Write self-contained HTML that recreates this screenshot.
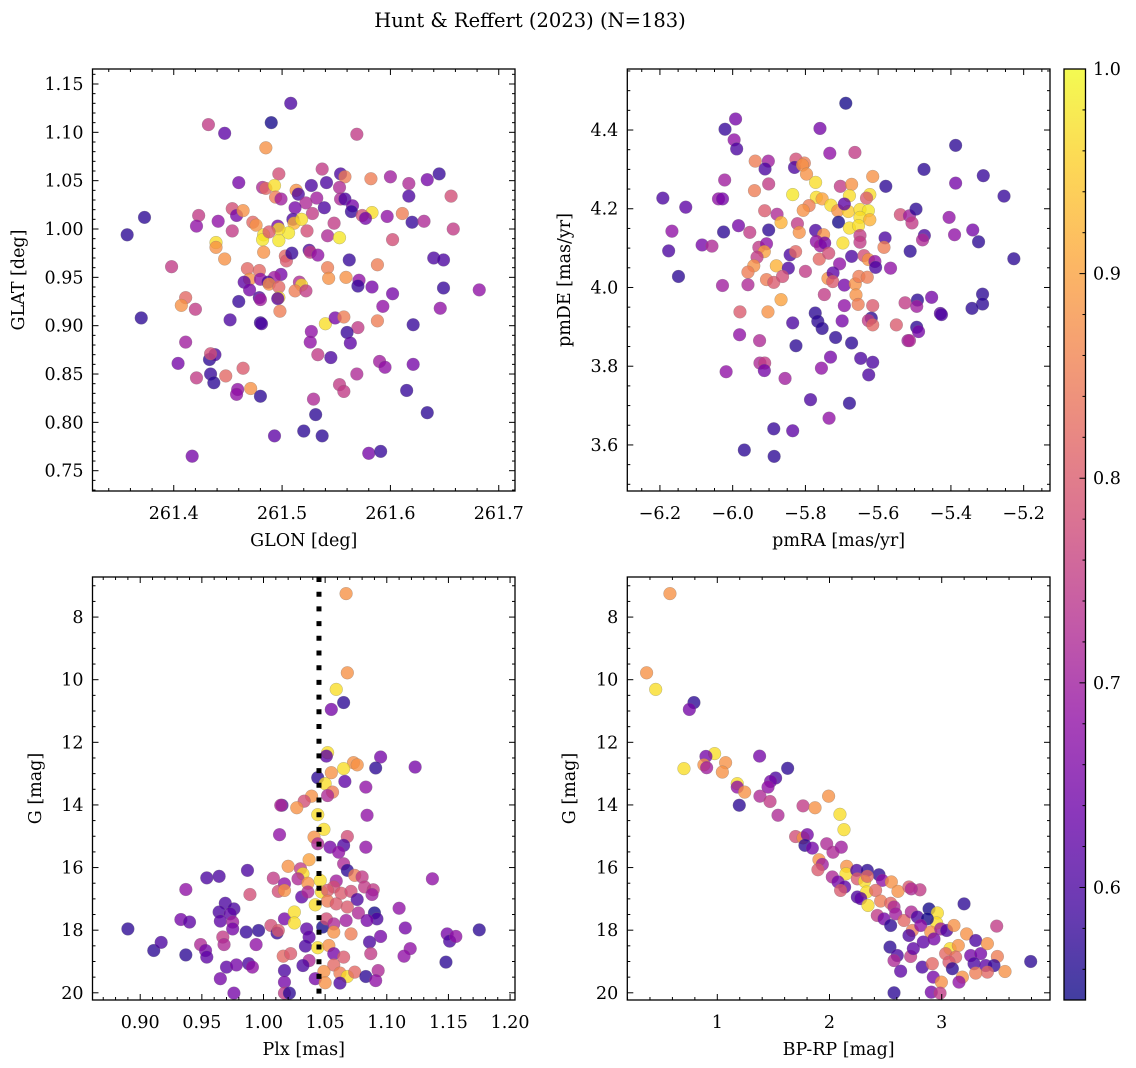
<!DOCTYPE html>
<html><head><meta charset="utf-8"><style>
html,body{margin:0;padding:0;background:#fff;}
svg{display:block;font-family:"DejaVu Serif","Liberation Serif",serif;}
</style></head><body>
<svg id="chart" xmlns="http://www.w3.org/2000/svg" width="1136" height="1068" viewBox="0 0 1136 1068">
<defs>
<linearGradient id="plasma" x1="0" y1="1" x2="0" y2="0">
<stop offset="0" stop-color="#0d0887"/><stop offset="0.1" stop-color="#41049d"/><stop offset="0.2" stop-color="#6a00a8"/><stop offset="0.3" stop-color="#8f0da4"/><stop offset="0.4" stop-color="#b12a90"/><stop offset="0.5" stop-color="#cc4778"/><stop offset="0.6" stop-color="#e16462"/><stop offset="0.7" stop-color="#f2844b"/><stop offset="0.8" stop-color="#fca636"/><stop offset="0.9" stop-color="#fcce25"/><stop offset="1" stop-color="#f0f921"/>
</linearGradient>
</defs>
<text x="530" y="27" text-anchor="middle" font-size="19.5">Hunt &amp; Reffert (2023) (N=183)</text>
</svg>
<script>
// ---- data ----
const p1x=[261.508,261.432,261.447,261.490,261.569,261.485,261.460,261.497,261.537,261.554,261.558,261.582,261.600,261.617,261.634,261.645,261.617,261.656,261.482,261.485,261.493,261.494,261.499,261.513,261.515,261.527,261.541,261.553,261.532,261.554,261.558,261.522,261.512,261.539,261.565,261.564,261.528,261.583,261.574,261.577,261.597,261.611,261.620,261.631,261.658,261.454,261.458,261.464,261.423,261.421,261.441,261.454,261.373,261.357,261.473,261.476,261.496,261.510,261.511,261.518,261.506,261.523,261.497,261.483,261.482,261.497,261.488,261.548,261.542,261.553,261.602,261.439,261.439,261.447,261.483,261.503,261.504,261.509,261.525,261.526,261.533,261.562,261.588,261.640,261.649,261.398,261.468,261.479,261.542,261.543,261.559,261.499,261.493,261.470,261.465,261.480,261.487,261.488,261.497,261.516,261.518,261.512,261.522,261.470,261.479,261.480,261.497,261.496,261.571,261.570,261.583,261.602,261.649,261.682,261.411,261.407,261.420,261.460,261.498,261.593,261.646,261.370,261.452,261.480,261.481,261.540,261.549,261.557,261.588,261.570,261.621,261.527,261.526,261.560,261.563,261.411,261.533,261.545,261.404,261.433,261.438,261.434,261.590,261.595,261.621,261.421,261.434,261.437,261.448,261.464,261.569,261.459,261.458,261.471,261.480,261.553,261.557,261.615,261.529,261.531,261.634,261.493,261.520,261.537,261.580,261.591,261.417];
const p1y=[1.130,1.108,1.099,1.110,1.098,1.084,1.048,1.057,1.062,1.057,1.054,1.052,1.054,1.047,1.051,1.057,1.034,1.034,1.043,1.042,1.045,1.033,1.031,1.040,1.036,1.045,1.048,1.043,1.032,1.031,1.031,1.027,1.022,1.022,1.024,1.018,1.016,1.017,1.014,1.011,1.013,1.016,1.007,1.008,1.000,1.021,1.014,1.019,1.014,1.003,1.008,0.998,1.012,0.994,1.007,1.004,1.003,1.010,1.006,1.010,0.996,0.998,1.000,0.994,0.989,0.988,0.997,1.006,0.993,0.991,0.989,0.986,0.981,0.969,0.976,0.972,0.967,0.975,0.978,0.976,0.973,0.968,0.963,0.970,0.968,0.961,0.959,0.957,0.960,0.949,0.950,0.953,0.950,0.948,0.945,0.948,0.945,0.943,0.940,0.945,0.942,0.936,0.936,0.937,0.929,0.927,0.929,0.928,0.947,0.941,0.940,0.933,0.939,0.937,0.929,0.921,0.917,0.925,0.915,0.920,0.918,0.908,0.906,0.903,0.902,0.902,0.908,0.909,0.905,0.898,0.901,0.894,0.883,0.893,0.882,0.883,0.870,0.867,0.861,0.865,0.870,0.871,0.863,0.857,0.860,0.846,0.850,0.841,0.848,0.856,0.850,0.834,0.829,0.835,0.827,0.839,0.832,0.833,0.824,0.808,0.810,0.786,0.791,0.786,0.768,0.770,0.765];
const p1p=[.6,.75,.62,.55,.75,.88,.65,.78,.75,.6,.85,.85,.7,.72,.65,.58,.6,.78,.72,.82,.97,.85,.7,.88,.6,.6,.6,.72,.7,.72,.6,.72,.65,.6,.65,.58,.75,.97,.78,.65,.68,.85,.58,.72,.75,.78,.65,.88,.75,.68,.68,.75,.57,.57,.82,.88,.65,.6,.92,.97,.98,.78,.97,.97,.98,.98,.8,.75,.72,.98,.78,.97,.88,.88,.88,.82,.8,.58,.6,.75,.68,.58,.85,.6,.6,.75,.82,.82,.85,.88,.88,.65,.7,.88,.62,.68,.6,.88,.82,.72,.97,.85,.75,.65,.6,.7,.97,.62,.68,.58,.65,.65,.58,.68,.82,.88,.75,.58,.85,.68,.68,.57,.6,.58,.6,.97,.65,.85,.85,.75,.58,.68,.68,.58,.62,.7,.75,.6,.65,.57,.6,.78,.7,.68,.65,.75,.58,.57,.82,.8,.72,.68,.68,.88,.57,.75,.75,.58,.72,.57,.57,.62,.57,.57,.65,.58,.65];
const p2x=[-5.689,-5.992,-6.021,-5.760,-5.996,-5.989,-5.733,-5.664,-5.387,-5.938,-5.902,-5.911,-5.826,-5.830,-5.803,-5.808,-5.797,-5.474,-5.311,-6.022,-5.901,-5.772,-5.940,-5.704,-5.673,-5.615,-5.579,-5.387,-5.254,-6.192,-6.039,-6.028,-5.835,-5.770,-5.754,-5.730,-5.679,-5.623,-5.632,-6.129,-5.912,-5.878,-5.790,-5.806,-5.711,-5.682,-5.693,-5.650,-5.627,-5.650,-5.623,-5.709,-5.867,-5.822,-5.679,-5.654,-5.539,-5.514,-5.507,-5.496,-5.405,-5.340,-5.324,-5.227,-6.167,-6.176,-6.149,-6.084,-6.057,-5.984,-6.025,-5.953,-5.901,-5.817,-5.772,-5.750,-5.770,-5.759,-5.747,-5.650,-5.650,-5.697,-5.581,-5.584,-5.473,-5.478,-5.390,-5.512,-5.928,-5.907,-5.913,-5.933,-5.942,-5.958,-5.842,-5.827,-5.762,-5.736,-5.673,-5.639,-5.627,-5.609,-5.607,-5.566,-5.706,-5.880,-5.847,-5.800,-5.907,-5.887,-5.863,-5.738,-5.724,-5.725,-5.693,-5.663,-5.653,-5.630,-6.028,-5.958,-5.748,-5.661,-5.867,-5.655,-5.615,-5.693,-5.980,-5.903,-5.526,-5.492,-5.494,-5.453,-5.429,-5.426,-5.313,-5.313,-5.342,-5.773,-5.766,-5.754,-5.835,-5.699,-5.619,-5.627,-5.615,-5.550,-5.494,-5.489,-5.518,-5.514,-5.981,-5.926,-5.826,-5.717,-5.673,-5.648,-5.615,-5.626,-5.731,-5.756,-5.925,-5.912,-5.913,-6.018,-5.856,-5.786,-5.679,-5.735,-5.887,-5.835,-5.968,-5.886];
const p2y=[4.468,4.428,4.402,4.404,4.375,4.352,4.341,4.343,4.361,4.321,4.321,4.301,4.326,4.305,4.316,4.311,4.288,4.300,4.284,4.273,4.263,4.267,4.246,4.257,4.262,4.282,4.257,4.265,4.232,4.227,4.225,4.225,4.236,4.229,4.225,4.209,4.233,4.236,4.227,4.204,4.195,4.186,4.208,4.196,4.195,4.193,4.212,4.198,4.195,4.178,4.172,4.166,4.165,4.162,4.151,4.157,4.185,4.182,4.164,4.199,4.178,4.146,4.116,4.073,4.143,4.093,4.028,4.108,4.105,4.157,4.141,4.140,4.146,4.140,4.145,4.134,4.117,4.106,4.113,4.132,4.115,4.113,4.126,4.102,4.132,4.121,4.134,4.092,4.102,4.111,4.091,4.077,4.055,4.039,4.083,4.091,4.072,4.087,4.079,4.081,4.071,4.066,4.051,4.049,4.060,4.055,4.049,4.041,4.020,4.013,4.028,4.023,4.037,4.015,4.006,4.009,4.028,4.026,4.005,4.007,3.982,3.981,3.969,3.957,3.954,3.954,3.938,3.938,3.961,3.968,3.952,3.975,3.934,3.931,3.983,3.958,3.947,3.935,3.914,3.896,3.910,3.915,3.922,3.916,3.905,3.905,3.899,3.888,3.865,3.865,3.880,3.865,3.852,3.873,3.859,3.820,3.810,3.778,3.823,3.795,3.808,3.808,3.789,3.786,3.769,3.715,3.706,3.668,3.641,3.636,3.587,3.571];
const p2p=[.55,.65,.58,.65,.68,.6,.68,.75,.57,.85,.7,.6,.78,.6,.85,.88,.88,.57,.58,.7,.75,.97,.85,.75,.88,.88,.57,.65,.58,.6,.68,.65,.98,.97,.9,.97,.97,.97,.8,.62,.8,.72,.85,.88,.88,.95,.62,.97,.98,.97,.92,.55,.92,.75,.97,.97,.78,.7,.75,.57,.68,.65,.57,.57,.68,.6,.57,.65,.72,.65,.57,.75,.57,.88,.6,.88,.68,.7,.65,.75,.75,.97,.6,.85,.6,.72,.68,.57,.75,.68,.9,.75,.88,.85,.6,.82,.82,.78,.6,.78,.88,.68,.6,.68,.68,.92,.6,.75,.85,.8,.78,.88,.62,.8,.65,.88,.85,.85,.7,.72,.75,.88,.9,.85,.8,.68,.8,.88,.75,.57,.7,.65,.62,.6,.57,.57,.57,.57,.57,.57,.6,.65,.57,.75,.82,.8,.57,.65,.7,.72,.68,.72,.57,.57,.57,.6,.6,.6,.65,.68,.72,.75,.65,.68,.7,.6,.57,.68,.58,.62,.57,.57];
const p3x=[1.067,1.068,1.059,1.065,1.055,1.052,1.051,1.095,1.091,1.123,1.073,1.076,1.065,1.055,1.044,1.050,1.066,1.083,1.056,1.052,1.039,1.033,1.015,1.014,1.027,1.044,1.084,1.049,1.013,1.041,1.068,1.044,1.054,1.065,1.061,1.083,1.037,1.020,1.030,1.032,1.065,1.068,1.074,1.080,0.987,0.954,0.964,1.008,1.017,1.028,1.036,1.046,1.059,1.057,1.082,1.089,1.088,1.137,0.937,0.989,1.012,1.017,1.031,1.036,1.047,1.052,1.063,1.071,1.076,1.052,1.059,1.068,1.042,0.969,0.976,1.110,0.964,0.973,0.965,0.975,0.975,0.933,0.940,0.890,0.986,0.996,1.006,1.011,1.012,1.017,1.025,1.025,1.035,1.037,1.048,1.051,1.057,1.057,1.067,1.077,1.090,1.092,1.084,1.071,1.095,1.086,1.087,1.115,1.119,1.114,1.149,1.151,1.156,1.175,1.148,0.911,0.917,0.937,0.949,0.953,0.954,0.967,0.968,0.994,1.016,1.022,1.034,1.044,1.053,1.057,1.065,1.037,1.032,1.057,0.970,0.978,0.988,0.991,1.017,1.049,1.062,1.068,1.074,1.083,1.093,1.091,0.965,1.017,1.042,1.050,1.062,0.976,1.017,1.021];
const p3y=[7.25,9.78,10.31,10.73,10.95,12.33,12.44,12.47,12.82,12.79,12.65,12.72,12.84,12.97,13.13,13.32,13.25,13.43,13.59,13.70,13.72,13.88,14.01,14.01,14.09,14.31,14.33,14.78,14.95,15.03,15.01,15.24,15.35,15.29,15.51,15.35,15.75,15.96,16.04,16.20,15.88,16.09,16.25,16.30,16.09,16.33,16.28,16.34,16.52,16.36,16.50,16.41,16.43,16.62,16.62,16.71,16.86,16.36,16.70,16.86,16.76,16.73,16.94,16.78,16.78,16.73,16.82,16.76,17.02,17.07,17.16,17.26,17.19,17.14,17.32,17.30,17.42,17.48,17.71,17.74,17.96,17.66,17.74,17.96,18.06,18.01,17.85,18.09,18.01,17.64,17.42,17.77,17.96,18.22,17.90,17.64,17.80,18.06,17.69,17.45,17.45,17.64,17.69,18.12,18.20,18.38,18.75,17.93,18.59,18.83,18.12,18.35,18.20,17.99,19.02,18.65,18.39,18.79,18.46,18.65,18.86,18.22,18.46,18.46,18.83,18.75,18.51,18.56,18.49,18.75,18.86,18.97,19.13,19.11,19.18,19.11,19.07,19.18,19.29,19.32,19.37,19.48,19.34,19.48,19.29,19.61,19.55,19.66,19.55,19.68,19.69,20.01,20.01,20.01];
const p3p=[.88,.88,.97,.57,.65,.97,.62,.65,.57,.65,.88,.88,.97,.88,.57,.97,.62,.68,.85,.72,.88,.78,.6,.72,.88,.97,.68,.97,.68,.88,.78,.72,.65,.6,.68,.68,.9,.88,.75,.97,.72,.57,.85,.75,.6,.6,.6,.75,.68,.72,.88,.97,.7,.78,.75,.75,.7,.68,.68,.78,.78,.88,.62,.72,.97,.8,.8,.78,.6,.85,.8,.8,.97,.6,.6,.68,.6,.62,.62,.7,.65,.65,.62,.57,.58,.57,.78,.58,.8,.65,.97,.97,.62,.62,.55,.78,.72,.88,.7,.72,.55,.6,.65,.85,.65,.6,.75,.65,.68,.68,.65,.6,.68,.57,.57,.57,.6,.57,.72,.65,.62,.75,.72,.68,.82,.8,.6,.97,.88,.65,.8,.72,.6,.82,.62,.65,.6,.68,.6,.88,.85,.97,.82,.57,.72,.68,.65,.65,.65,.88,.6,.65,.75,.57];
const p4x=[0.578,0.370,0.451,0.792,0.751,0.976,0.899,0.881,0.905,1.074,1.045,0.703,1.377,1.627,1.520,1.475,1.452,1.178,1.178,1.244,1.380,1.470,1.196,1.541,1.764,1.871,1.992,2.093,2.129,1.698,1.764,1.802,1.781,1.847,1.975,2.031,2.105,1.906,1.936,1.897,2.153,2.147,2.242,2.337,2.441,2.025,2.076,2.135,2.099,2.248,2.313,2.337,2.471,2.551,2.610,2.708,2.806,2.729,2.248,2.331,2.411,2.278,2.456,2.343,2.545,2.575,3.199,2.426,2.486,2.545,2.590,2.664,2.729,2.783,2.887,2.961,2.955,2.872,2.738,2.813,2.708,2.902,2.991,3.044,3.109,3.222,3.490,2.836,2.931,3.074,3.148,3.035,3.124,3.303,3.258,3.347,3.407,3.496,3.288,3.392,3.466,3.407,3.564,3.793,2.539,2.604,2.575,2.723,2.747,2.634,2.827,2.916,2.925,3.065,3.095,3.184,3.303,3.154,2.997,2.907,2.985,2.575];
const p4y=[7.25,9.78,10.31,10.73,10.95,12.36,12.45,12.72,12.81,12.65,12.95,12.84,12.44,12.83,13.14,13.25,13.43,13.32,13.43,13.59,13.72,13.89,14.01,14.33,14.03,14.09,13.72,14.30,14.79,15.01,15.05,14.95,15.29,15.38,15.24,15.51,15.35,15.75,15.90,16.07,15.96,16.20,16.09,16.09,16.23,16.30,16.46,16.62,16.73,16.36,16.44,16.28,16.41,16.46,16.76,16.62,16.71,16.68,16.94,16.78,16.73,16.99,17.07,17.21,17.14,17.26,17.16,17.53,17.64,17.85,17.48,17.69,17.42,17.58,17.32,17.45,17.77,17.64,18.01,17.85,18.17,18.06,17.96,18.01,17.85,18.12,17.87,18.38,18.28,18.59,18.49,18.75,18.86,18.33,18.81,18.75,18.43,18.84,19.07,19.13,19.13,19.34,19.32,19.00,18.54,18.81,18.97,18.84,18.59,19.31,19.18,19.07,19.50,19.02,19.23,19.50,19.37,19.66,19.66,19.98,20.01,20.00];
const p4p=[.88,.88,.97,.57,.65,.97,.65,.88,.7,.88,.88,.97,.65,.57,.6,.65,.68,.97,.68,.88,.72,.75,.57,.72,.75,.88,.88,.97,.97,.78,.88,.65,.57,.65,.72,.72,.7,.88,.7,.8,.88,.97,.6,.57,.57,.72,.65,.62,.8,.8,.97,.82,.68,.88,.88,.8,.75,.72,.6,.97,.82,.62,.85,.97,.82,.72,.57,.75,.65,.57,.7,.82,.72,.6,.55,.97,.97,.55,.85,.68,.6,.88,.7,.6,.88,.88,.75,.62,.65,.97,.88,.82,.82,.6,.65,.65,.88,.85,.6,.62,.58,.82,.88,.57,.57,.6,.72,.75,.62,.62,.6,.82,.65,.8,.57,.88,.85,.68,.88,.65,.75,.57];
const plxLine=[1.045];
const cbRange=[0.545,1.0];
const cbTicks=[0.6,0.7,0.8,0.9,1.0];

const SVG="http://www.w3.org/2000/svg";
const svg=document.getElementById('chart');
const FS=17.5;
function mk(tag,attrs,parent){const e=document.createElementNS(SVG,tag);for(const k in attrs)e.setAttribute(k,attrs[k]);(parent||svg).appendChild(e);return e;}
const stops=[[13,8,135],[65,4,157],[106,0,168],[143,13,164],[177,42,144],[204,71,120],[225,100,98],[242,132,75],[252,166,54],[252,206,37],[240,249,33]];
function cmap(p){let t=(p-cbRange[0])/(cbRange[1]-cbRange[0]);t=Math.max(0,Math.min(1,t))*10;const i=Math.min(9,Math.floor(t));const f=t-i;const a=stops[i],b=stops[i+1];return 'rgb('+a.map((v,k)=>Math.round(v+(b[k]-v)*f)).join(',')+')';}
function fmt(v,d){const s=v.toFixed(d);return v<0?'\u2212'+s.slice(1):s;}

function panel(cfg){
  const {L,R,T,B,xd,yd,name}=cfg;
  const sx=v=>L+(v-xd[0])/(xd[1]-xd[0])*(R-L);
  const sy=v=>T+(yd[1]-v)/(yd[1]-yd[0])*(B-T);
  const g=mk('g',{});
  
  
  const clipId='clip-'+name;
  const cp=mk('clipPath',{id:clipId},g);mk('rect',{x:L,y:T,width:R-L,height:B-T},cp);
  const pts=mk('g',{'clip-path':'url(#'+clipId+')'},g);
  
  
  for(let i=0;i<cfg.xs.length;i++){
    const c=mk('circle',{cx:sx(cfg.xs[i]),cy:sy(cfg.ys[i]),r:6.4,fill:cmap(cfg.ps[i]),'fill-opacity':0.78,stroke:'#777','stroke-opacity':0.5,'stroke-width':0.5},pts);
    
    
  }
  if(cfg.vline){cfg.vline.forEach(v=>{const l=mk('line',{x1:sx(v),x2:sx(v),y1:T,y2:B,stroke:'#000','stroke-width':5,'stroke-dasharray':'5 9.7'},g);
    
    });}
  const fr=mk('rect',{x:L,y:T,width:R-L,height:B-T,fill:'none',stroke:'#000','stroke-width':1.3},g);
  
  
  const eps=1e-9;
  for(let v=Math.ceil(xd[0]/cfg.xmin-eps)*cfg.xmin;v<=xd[1]+eps;v+=cfg.xmin){
    const x=sx(v);const isMaj=Math.abs(v/cfg.xmaj-Math.round(v/cfg.xmaj))<1e-6;const len=isMaj?6:3;
    mk('line',{x1:x,x2:x,y1:B,y2:B-len,stroke:'#000','stroke-width':1},g);
    mk('line',{x1:x,x2:x,y1:T,y2:T+len,stroke:'#000','stroke-width':1},g);
    if(isMaj){const t=mk('text',{x:x,y:B+28,'text-anchor':'middle','font-size':FS},g);t.textContent=fmt(v,cfg.xdec);
      
      }
  }
  for(let v=Math.ceil(yd[0]/cfg.ymin-eps)*cfg.ymin;v<=yd[1]+eps;v+=cfg.ymin){
    const y=sy(v);const isMaj=Math.abs(v/cfg.ymaj-Math.round(v/cfg.ymaj))<1e-6;const len=isMaj?6:3;
    mk('line',{x1:L,x2:L+len,y1:y,y2:y,stroke:'#000','stroke-width':1},g);
    mk('line',{x1:R,x2:R-len,y1:y,y2:y,stroke:'#000','stroke-width':1},g);
    if(isMaj){const t=mk('text',{x:L-9,y:y+6,'text-anchor':'end','font-size':FS},g);t.textContent=fmt(Math.abs(v)<1e-9?0:v,cfg.ydec).replace(/^\u2212(?=\d+$)/,'');
      
      }
  }
  const xl=mk('text',{x:(L+R)/2,y:B+55,'text-anchor':'middle','font-size':FS},g);xl.textContent=cfg.xlabel;
  
  
  const yx=cfg.ylx,yy=(T+B)/2;
  const yl=mk('text',{x:yx,y:yy,'text-anchor':'middle','font-size':FS,transform:'rotate(-90 '+yx+' '+yy+')'},g);yl.textContent=cfg.ylabel;
  
  
}
panel({name:'glon-glat-panel',L:92.5,R:515,T:69,B:491,xd:[261.325,261.715],yd:[0.729,1.1655],xs:p1x,ys:p1y,ps:p1p,xmaj:0.1,xmin:0.02,xdec:1,ymaj:0.05,ymin:0.01,ydec:2,xlabel:'GLON [deg]',ylabel:'GLAT [deg]',ylx:24});
panel({name:'proper-motion-panel',L:627.3,R:1050,T:69,B:491,xd:[-6.2897,-5.1276],yd:[3.483,4.555],xs:p2x,ys:p2y,ps:p2p,xmaj:0.2,xmin:0.05,xdec:1,ymaj:0.2,ymin:0.05,ydec:1,xlabel:'pmRA [mas/yr]',ylabel:'pmDE [mas/yr]',ylx:570});
panel({name:'plx-g-panel',L:92.5,R:515,T:577,B:1000,xd:[0.8613,1.204],yd:[-20.23,-6.72],xs:p3x,ys:p3y.map(v=>-v),ps:p3p,xmaj:0.05,xmin:0.01,xdec:2,ymaj:2,ymin:0.5,ydec:0,xlabel:'Plx [mas]',ylabel:'G [mag]',ylx:41,vline:plxLine});
panel({name:'cmd-panel',L:627.3,R:1050,T:577,B:1000,xd:[0.198,3.965],yd:[-20.23,-6.72],xs:p4x,ys:p4y.map(v=>-v),ps:p4p,xmaj:1,xmin:0.2,xdec:0,ymaj:2,ymin:0.5,ydec:0,xlabel:'BP-RP [mag]',ylabel:'G [mag]',ylx:575});
// colorbar
const cb=mk('g',{});


const cT=69,cB=1000,cL=1064,cR=1085.5;
mk('rect',{x:cL,y:cT,width:cR-cL,height:cB-cT,fill:'url(#plasma)','fill-opacity':0.78},cb);
mk('rect',{x:cL,y:cT,width:cR-cL,height:cB-cT,fill:'none',stroke:'#000','stroke-width':1.3},cb);
const cy=v=>cB-(v-cbRange[0])/(cbRange[1]-cbRange[0])*(cB-cT);
for(let v=0.56;v<=1.0001;v+=0.02){const y=cy(v);const maj=Math.abs(v*10-Math.round(v*10))<1e-6;
  mk('line',{x1:cR,x2:cR-(maj?6:3),y1:y,y2:y,stroke:'#000','stroke-width':1},cb);}
cbTicks.forEach(v=>{const t=mk('text',{x:1093,y:cy(v)+6,'font-size':FS},cb);t.textContent=v.toFixed(1);
  
  });
</script>
</body></html>
